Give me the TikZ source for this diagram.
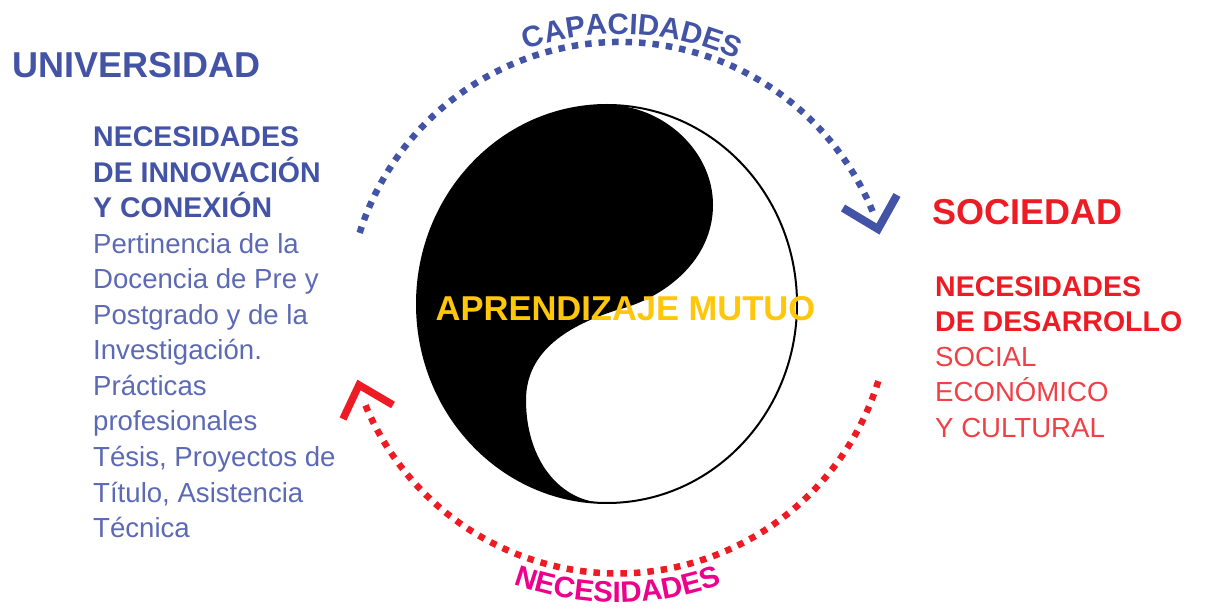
\documentclass[tikz,border=0pt]{standalone}
\usepackage{fontspec}
\setmainfont{Liberation Sans}
\usetikzlibrary{decorations.text,calc}
\definecolor{ublue}{RGB}{67,83,165}
\definecolor{ubluelt}{RGB}{92,106,182}
\definecolor{sred}{RGB}{237,28,36}
\definecolor{sredlt}{RGB}{240,64,70}
\definecolor{nmag}{RGB}{236,0,140}
\definecolor{ayel}{RGB}{255,198,10}
\newcommand\fsz[1]{\fontsize{#1}{#1}\selectfont}
\begin{document}
\begin{tikzpicture}[x=1pt,y=1pt,
  txt/.style={inner sep=0pt, anchor=base west},
  bighead/.style={txt, font=\fsz{36}\bfseries},
  subhead/.style={txt, font=\fsz{28.5}\bfseries},
  body/.style={txt, font=\fsz{27.6}},
  bluedots/.style={draw=ublue, line width=6.5pt, dash pattern=on 6.5pt off 7pt},
  reddots/.style={draw=sred, line width=6.5pt, dash pattern=on 6.5pt off 7pt},
  chev/.style={line width=8pt, miter limit=10},
]
\useasboundingbox (0,0) rectangle (1208,-609);

% yin-yang
\coordinate (yc) at (607,-304);
\coordinate (yT) at (607,-105);
\coordinate (yR) at (713,-205);
\coordinate (yM) at (617,-310);
\coordinate (yL) at (526,-400);
\coordinate (yB) at (607,-503);
\fill[black] (yT) .. controls (662,-105) and (713,-150) .. (yR)
  .. controls (713,-260) and (665,-298) .. (yM)
  .. controls (570,-325) and (526,-350) .. (yL)
  .. controls (526,-460) and (560,-503) .. (yB)
  arc[start angle=270,end angle=90,x radius=190,y radius=199] -- cycle;
\draw[line width=2pt] (yc) ellipse[x radius=190, y radius=199];

% blue arc (capacidades)
\coordinate (bc) at (620,-315);
\coordinate (bs) at ($(bc)+(162.5:273)$);
\draw[bluedots] (bs) arc[start angle=162.5,end angle=22.2,radius=273];
\coordinate (btip) at (878,-229);
\coordinate (bl) at (843,-208);
\coordinate (br) at (897,-195);
\draw[ublue,chev] (bl) -- (btip) -- (br);
\path[decorate, decoration={text along path, text align=center, text color=ublue,
  text={|\fsz{29.5}\bfseries|CAPACIDADES}}]
  ($(bc)+(132.5:281)$) arc[start angle=132.5,end angle=42.5,radius=281];

% red arc (necesidades)
\coordinate (rc) at (617.5,-300.4);
\coordinate (rs) at ($(rc)+(-17.2:273)$);
\draw[reddots] (rs) arc[start angle=-17.2,end angle=-157.9,radius=273];
\coordinate (rtip) at (359,-385);
\coordinate (rl) at (343,-419);
\coordinate (rr) at (393,-405);
\draw[sred,chev,line width=7.5pt] (rl) -- (rtip) -- (rr);
\path[decorate, decoration={text along path, text align=center, text color=nmag,
  text={|\fsz{29.5}\bfseries|NECESIDADES}}]
  ($(rc)+(225:302)$) arc[start angle=225,end angle=315,radius=302];

% centre text
\node[font=\fsz{34.5}\bfseries, text=ayel, inner sep=0pt, anchor=base] (am) at (625.5,-321) {APRENDIZAJE MUTUO};

% left block
\node[bighead, text=ublue] (univ) at (12,-78) {UNIVERSIDAD};
\node[subhead, text=ublue] (l1) at (93,-147) {NECESIDADES};
\node[subhead, text=ublue] (l2) at (93,-182.5) {DE INNOVACIÓN};
\node[subhead, text=ublue] (l3) at (93,-218) {Y CONEXIÓN};
\node[body, text=ubluelt] (l4) at (93,-253.5) {Pertinencia de la};
\node[body, text=ubluelt] (l5) at (93,-289) {Docencia de Pre y};
\node[body, text=ubluelt] (l6) at (93,-324.5) {Postgrado y de la};
\node[body, text=ubluelt] (l7) at (93,-360) {Investigación.};
\node[body, text=ubluelt] (l8) at (93,-395.5) {Prácticas};
\node[body, text=ubluelt] (l9) at (93,-431) {profesionales};
\node[body, text=ubluelt] (l10) at (93,-466.5) {Tésis, Proyectos de};
\node[body, text=ubluelt] (l11) at (93,-502) {Título, Asistencia};
\node[body, text=ubluelt] (l12) at (93,-537.5) {Técnica};

% right block
\node[bighead, text=sred] (soc) at (932,-225) {SOCIEDAD};
\node[subhead, text=sred] (r1) at (935,-297) {NECESIDADES};
\node[subhead, text=sred] (r2) at (935,-332) {DE DESARROLLO};
\node[body, text=sredlt] (r3) at (935,-367) {SOCIAL};
\node[body, text=sredlt] (r4) at (935,-402) {ECONÓMICO};
\node[body, text=sredlt] (r5) at (935,-438) {Y CULTURAL};
\end{tikzpicture}
\end{document}
